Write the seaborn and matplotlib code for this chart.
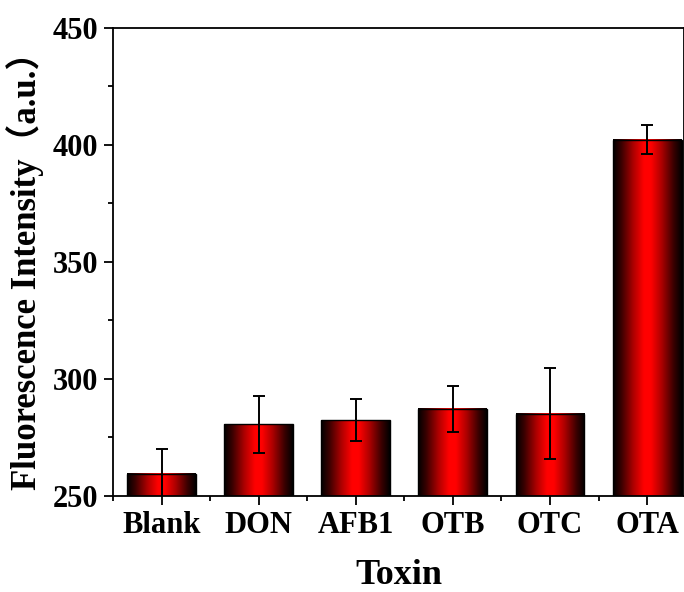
import numpy as np
import matplotlib
matplotlib.use("Agg")
import matplotlib.pyplot as plt
import seaborn as sns
from matplotlib.colors import LinearSegmentedColormap
from matplotlib.ticker import MultipleLocator, FixedLocator

# data
toxins = ["Blank", "DON", "AFB1", "OTB", "OTC", "OTA"]
intensity = [259.6, 280.6, 282.4, 287.2, 285.1, 402.3]
errors = [10.4, 12.2, 9.1, 9.8, 19.4, 6.1]

sns.set_theme(style="ticks")
plt.rcParams['font.family'] = ['Liberation Serif', 'Noto Sans CJK SC', 'DejaVu Sans']
plt.rcParams['font.weight'] = 'bold'

fig = plt.figure(figsize=(6.84, 5.92), dpi=100)
ax = fig.add_axes([0.1652, 0.1622, 0.8348, 0.7905])

sns.barplot(x=toxins, y=intensity, color="red", width=0.71,
            edgecolor="black", linewidth=1.0, ax=ax)

ymin, ymax = 250, 450

# horizontal black-red-black gradient inside each bar
grad_cmap = LinearSegmentedColormap.from_list(
    "redbar",
    [(0.0, "#000000"), (0.12, "#3a0000"), (0.3, "#b00000"),
     (0.45, "#ff0000"), (0.55, "#ff0000"), (0.7, "#b00000"),
     (0.88, "#3a0000"), (1.0, "#000000")])
grad = np.linspace(0, 1, 256).reshape(1, -1)
for p in ax.patches:
    x0, y0 = p.get_x(), p.get_y()
    w, h = p.get_width(), p.get_height()
    ax.imshow(grad, cmap=grad_cmap, aspect="auto",
              extent=(x0, x0 + w, max(y0, ymin), y0 + h), zorder=2)
    p.set_facecolor("none")
    p.set_zorder(3)

ax.errorbar(x=np.arange(len(toxins)), y=intensity, yerr=errors, fmt="none",
            ecolor="black", elinewidth=1.4, capsize=4, capthick=1.4, zorder=4)

ax.set_xlim(-0.5, 5.38)
ax.set_ylim(ymin, ymax)
ax.yaxis.set_major_locator(MultipleLocator(50))
ax.yaxis.set_minor_locator(MultipleLocator(25))
ax.xaxis.set_minor_locator(FixedLocator(np.arange(-0.5, 5.5, 1.0)))

for s in ax.spines.values():
    s.set_linewidth(1.3)
    s.set_color("black")

ax.tick_params(axis="both", which="major", direction="out", length=6.5,
               width=1.3, color="black", labelsize=22, pad=4)
ax.tick_params(axis="both", which="minor", direction="out", length=3.5,
               width=1.3, color="black")
ax.tick_params(axis="y", which="both", right=False)
ax.tick_params(axis="x", which="both", top=False)
for lab in ax.get_xticklabels() + ax.get_yticklabels():
    lab.set_fontweight("bold")
    lab.set_color("black")

ax.set_xlabel("Toxin", fontsize=26, fontweight="bold", labelpad=14,
              color="black")
ax.set_ylabel("Fluorescence Intensity（a.u.）", fontsize=25,
              fontweight="bold", labelpad=6, color="black")

fig.savefig("out.png", dpi=100)
